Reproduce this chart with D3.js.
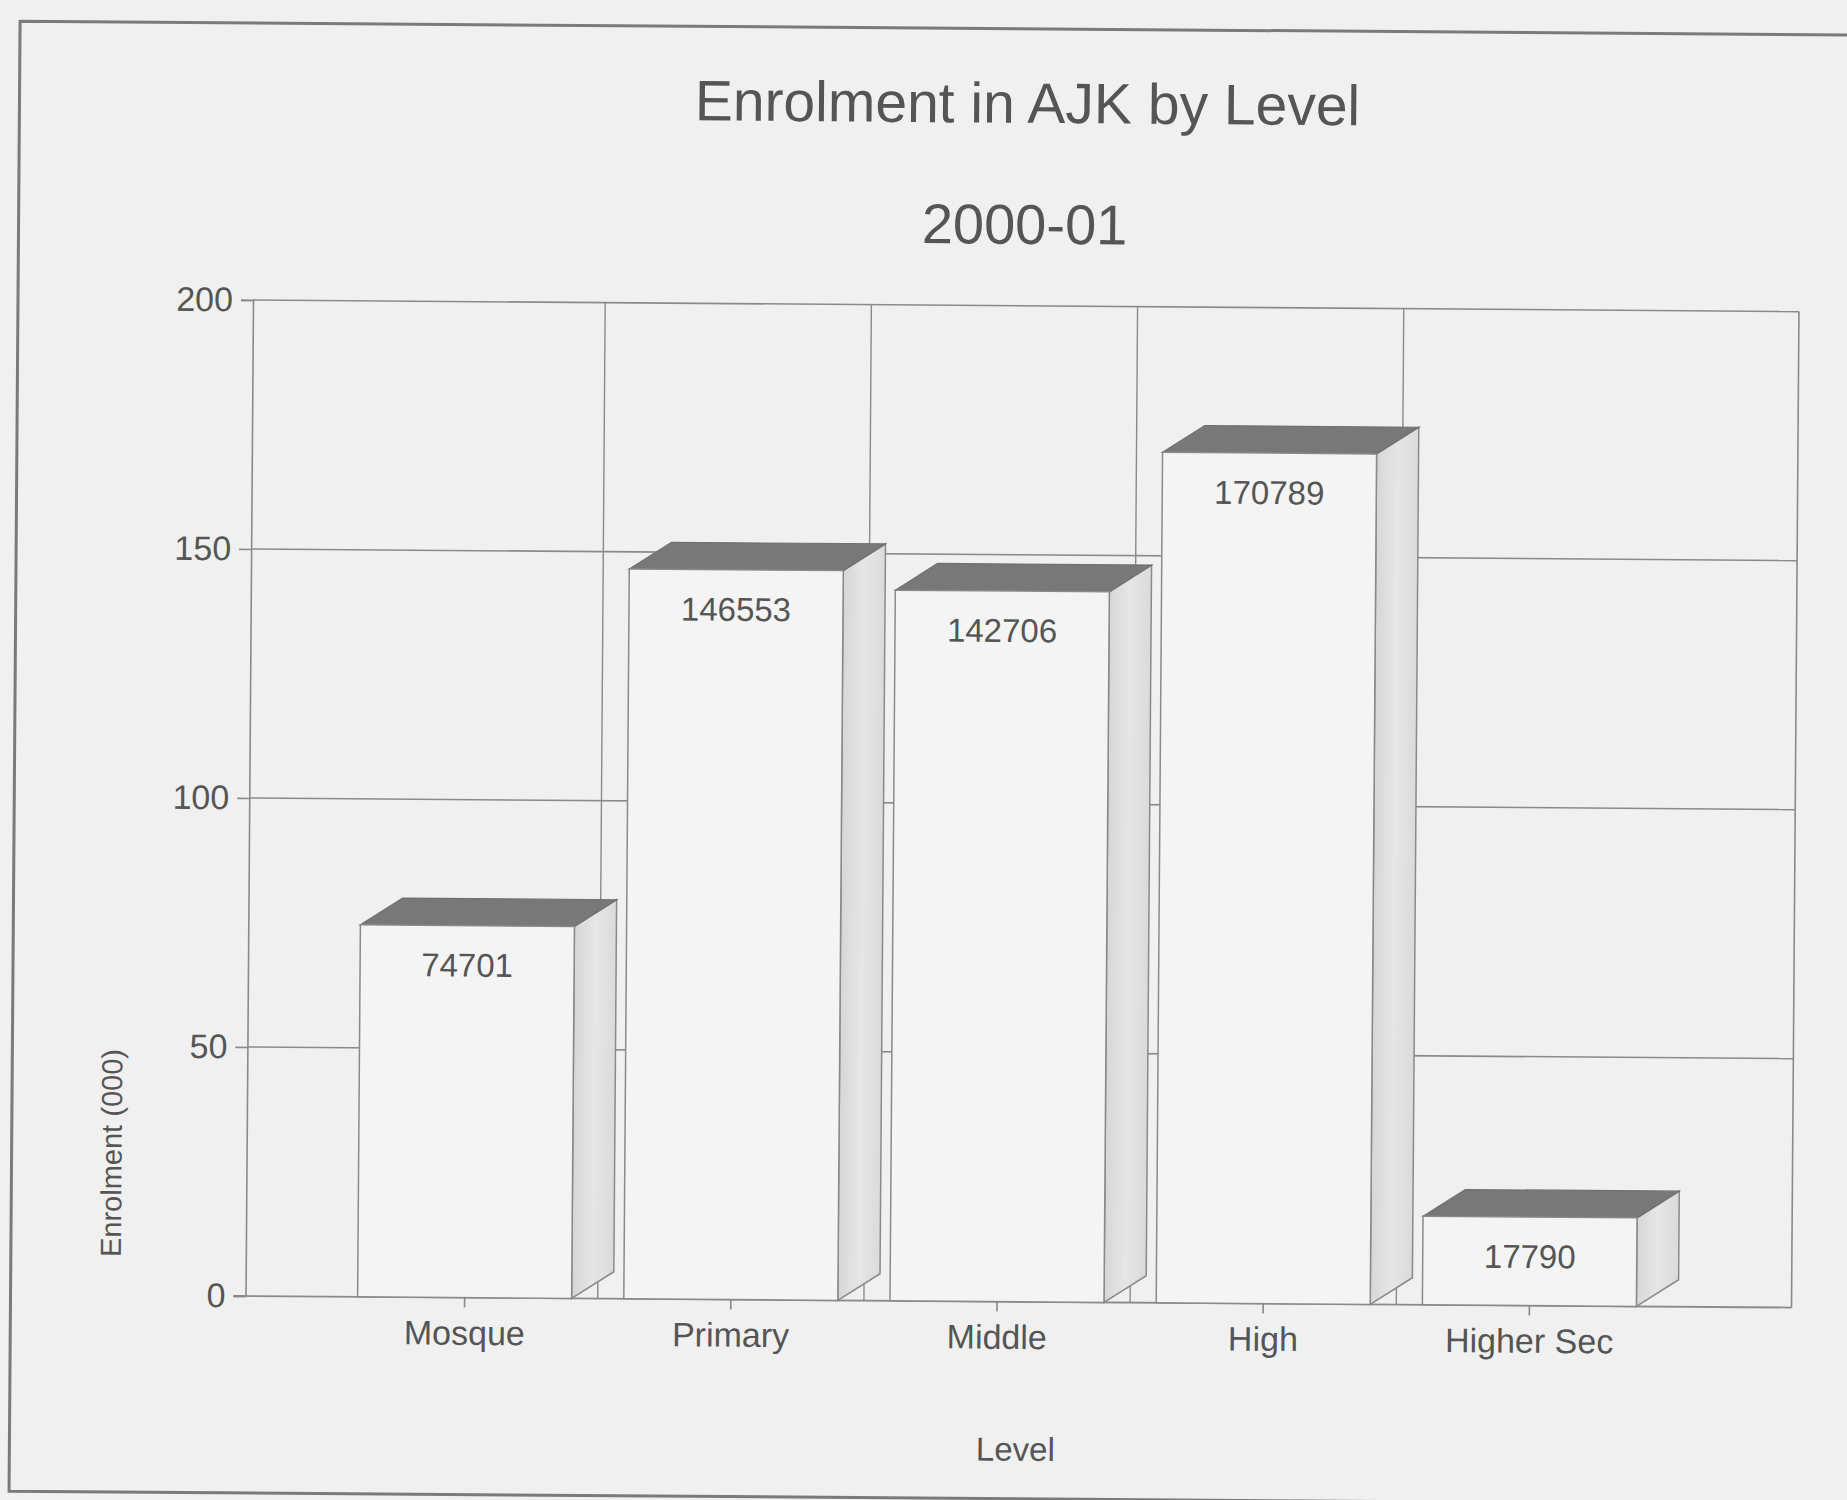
<!DOCTYPE html>
<html>
<head>
<meta charset="utf-8">
<script src="https://cdn.jsdelivr.net/npm/d3@7"></script>
<style>
  html, body { margin: 0; padding: 0; background: #f0f0f0; }
  svg { display: block; }
  text { font-family: "Liberation Sans", Arial, sans-serif; fill: #555; }
</style>
</head>
<body>
<svg id="chart" width="1847" height="1500"></svg>
<script>
// ---- data ----
const categories = ["Mosque", "Primary", "Middle", "High", "Higher Sec"];
const enrolment = [74701, 146553, 142706, 170789, 17790];
const yTicks = [0, 50, 100, 150, 200];
const titleText = "Enrolment in AJK by Level";
const subtitleText = "2000-01";
const yTitle = "Enrolment (000)";
const xTitle = "Level";

// ---- layout ----
const W = 1847, H = 1500;
const plot = { left: 253, top: 300, right: 1799, bottom: 1296 };
const depth = { dx: 42, dy: -27 };
const lineColor = "#8a8a8a";

const svg = d3.select("#chart");
svg.append("rect").attr("width", W).attr("height", H).attr("fill", "#f0f0f0");

const defs = svg.append("defs");
const grad = defs.append("linearGradient").attr("id", "side").attr("x1", "0").attr("x2", "1").attr("y1", "0").attr("y2", "0");
grad.append("stop").attr("offset", "0").attr("stop-color", "#d6d6d6");
grad.append("stop").attr("offset", "0.5").attr("stop-color", "#e6e6e6");
grad.append("stop").attr("offset", "1").attr("stop-color", "#dadada");

// whole scanned page is slightly rotated
const g = svg.append("g").attr("transform", `rotate(0.43, ${plot.left}, ${plot.top})`);

// outer frame
g.append("path")
  .attr("d", `M1900,23 L18,23 L18,1493 L1900,1493`)
  .attr("fill", "none").attr("stroke", "#7a7a7a").attr("stroke-width", 3);

// scales
const x = d3.scaleBand().domain(categories).range([339, 1670]).padding(0);
const y = d3.scaleLinear().domain([0, 200]).range([plot.bottom, plot.top]);
const barW = x.bandwidth() * 0.804;

// horizontal gridlines
g.append("g").selectAll("line").data(yTicks.filter(d => d > 0)).join("line")
  .attr("x1", plot.left).attr("x2", plot.right)
  .attr("y1", d => y(d)).attr("y2", d => y(d))
  .attr("stroke", lineColor).attr("stroke-width", 1.6);

// vertical separators between categories
g.append("g").selectAll("line").data(categories.slice(1)).join("line")
  .attr("x1", d => x(d)).attr("x2", d => x(d))
  .attr("y1", plot.top).attr("y2", plot.bottom)
  .attr("stroke", lineColor).attr("stroke-width", 1.4);

// right edge of plot
g.append("line")
  .attr("x1", plot.right).attr("x2", plot.right)
  .attr("y1", plot.top).attr("y2", plot.bottom)
  .attr("stroke", lineColor).attr("stroke-width", 1.6);

// y axis
const yAxis = g.append("g").attr("transform", `translate(${plot.left},0)`)
  .call(d3.axisLeft(y).tickValues(yTicks).tickSize(12).tickPadding(8).tickFormat(d3.format("d")));
yAxis.select(".domain").attr("stroke", lineColor).attr("stroke-width", 1.6);
yAxis.selectAll(".tick line").attr("stroke", lineColor).attr("stroke-width", 1.6);
yAxis.selectAll(".tick text").attr("font-size", 34).attr("fill", "#555")
  .style("font-family", '"Liberation Sans", Arial, sans-serif');

// x axis
const xAxis = g.append("g").attr("transform", `translate(0,${plot.bottom})`)
  .call(d3.axisBottom(x).tickSize(10).tickPadding(13).tickSizeOuter(0));
xAxis.select(".domain").attr("d", `M${plot.left - 12},0H${plot.right}`)
  .attr("stroke", lineColor).attr("stroke-width", 1.8);
xAxis.selectAll(".tick line").attr("stroke", lineColor).attr("stroke-width", 1.6);
xAxis.selectAll(".tick text").attr("font-size", 34).attr("fill", "#555")
  .style("font-family", '"Liberation Sans", Arial, sans-serif');

// 3D bars
const bars = g.append("g").selectAll("g").data(categories.map((c, i) => ({ c, v: enrolment[i] }))).join("g");
bars.each(function (d) {
  const sel = d3.select(this);
  const xl = x(d.c) + (x.bandwidth() - barW) / 2;
  const xr = xl + barW;
  const yt = y(d.v / 1000);
  const y0 = y(0);
  // side
  sel.append("path")
    .attr("d", `M${xr},${yt}L${xr + depth.dx},${yt + depth.dy}L${xr + depth.dx},${y0 + depth.dy}L${xr},${y0}Z`)
    .attr("fill", "url(#side)").attr("stroke", lineColor).attr("stroke-width", 1.5);
  // top
  sel.append("path")
    .attr("d", `M${xl},${yt}L${xl + depth.dx},${yt + depth.dy}L${xr + depth.dx},${yt + depth.dy}L${xr},${yt}Z`)
    .attr("fill", "#787878").attr("stroke", "#707070").attr("stroke-width", 1.2);
  // front
  sel.append("rect")
    .attr("x", xl).attr("y", yt).attr("width", barW).attr("height", y0 - yt)
    .attr("fill", "#f4f4f4").attr("stroke", lineColor).attr("stroke-width", 1.5);
  // value label
  sel.append("text")
    .attr("x", xl + barW / 2).attr("y", yt + 51)
    .attr("text-anchor", "middle").attr("font-size", 33)
    .text(d.v);
});

// titles
g.append("text").attr("x", 1026).attr("y", 117).attr("text-anchor", "middle")
  .attr("font-size", 57).text(titleText);
g.append("text").attr("x", 1024).attr("y", 238).attr("text-anchor", "middle")
  .attr("font-size", 56).text(subtitleText);
g.append("text").attr("transform", `translate(128,1154) rotate(-90)`)
  .attr("text-anchor", "middle").attr("font-size", 29).text(yTitle);
g.append("text").attr("x", 1024).attr("y", 1455).attr("text-anchor", "middle")
  .attr("font-size", 33).text(xTitle);
</script>
</body>
</html>
